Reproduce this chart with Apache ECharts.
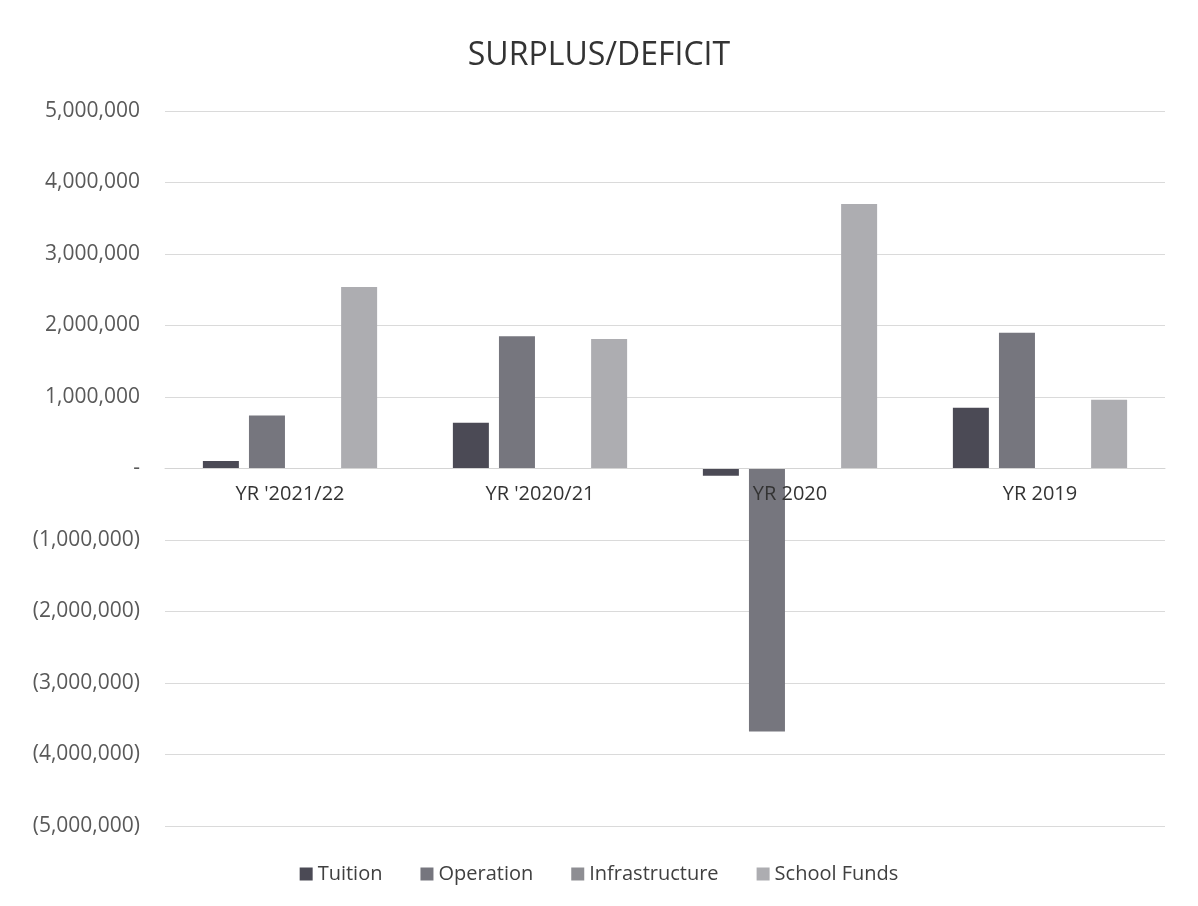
<!DOCTYPE html>
<html>
<head>
<meta charset="utf-8">
<script src="https://cdn.jsdelivr.net/npm/echarts@6/dist/echarts.min.js"></script>
<style>
html,body{margin:0;padding:0;background:#fff;}
#chart{width:1198px;height:906px;}
</style>
</head>
<body>
<div id="chart"></div>
<script>
const categories = ["YR '2021/22", "YR '2020/21", "YR 2020", "YR 2019"];
const tuition = [105000, 640000, -100000, 850000];
const operation = [740000, 1850000, -3680000, 1900000];
const infrastructure = [0, 0, 0, 0];
const schoolFunds = [2540000, 1810000, 3700000, 960000];
const seriesNames = ["Tuition", "Operation", "Infrastructure", "School Funds"];
const seriesColors = ["#4b4a55", "#76767e", "#8e8e93", "#adadb1"];

function fmt(v) {
  if (v === 0) return '-';
  const s = Math.abs(v).toLocaleString('en-US');
  return v < 0 ? '(' + s + ')' : s;
}

const gridTop = 111, gridBottom = 80, H = 906;
const yMin = -5000000, yMax = 5000000;
// move category axis up to the zero line
const plotH = H - gridTop - gridBottom;
const zeroOffset = -plotH * (0 - yMin) / (yMax - yMin);

const chart = echarts.init(document.getElementById('chart'));
const values = [tuition, operation, infrastructure, schoolFunds];
chart.setOption({
  animation: false,
  backgroundColor: '#fff',
  title: {
    text: 'SURPLUS/DEFICIT',
    left: 'center',
    top: 35,
    textStyle: { fontFamily: 'Open Sans', fontSize: 32, fontWeight: 'normal', color: '#333' }
  },
  legend: {
    bottom: 17,
    left: 'center',
    itemWidth: 13,
    itemHeight: 13,
    itemGap: 38,
    icon: 'rect',
    textStyle: { fontFamily: 'Open Sans', fontSize: 20, color: '#404040' },
    data: seriesNames
  },
  grid: { left: 165, right: 33, top: gridTop, bottom: gridBottom },
  xAxis: {
    type: 'category',
    data: categories,
    offset: zeroOffset,
    z: 10,
    axisLine: { onZero: false, lineStyle: { color: '#d4d4d4', width: 1 } },
    axisTick: { show: false },
    axisLabel: { fontFamily: 'Open Sans', fontSize: 20, color: '#333', margin: 16 }
  },
  yAxis: {
    type: 'value',
    min: yMin,
    max: yMax,
    interval: 1000000,
    axisLine: { show: false },
    axisTick: { show: false },
    splitLine: { lineStyle: { color: '#dadada', width: 1 } },
    axisLabel: { fontFamily: 'Open Sans', fontSize: 21, color: '#595959', margin: 25, formatter: fmt }
  },
  series: seriesNames.map((n, i) => ({
    name: n,
    type: 'bar',
    data: values[i],
    barWidth: 36,
    barGap: '28%',
    itemStyle: { color: seriesColors[i] }
  }))
});
</script>
</body>
</html>
